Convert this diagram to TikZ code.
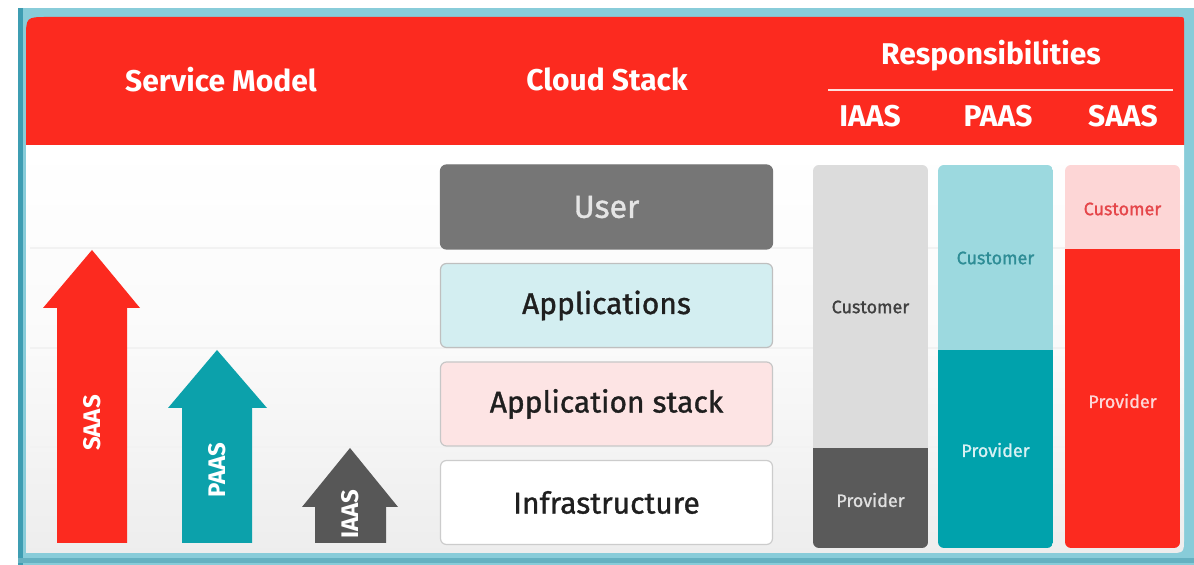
\documentclass[tikz,border=0pt]{standalone}
\usepackage{fontspec}
\setmainfont{Fira Sans}
\newfontfamily\medfont[FakeBold=1.1]{Fira Sans}
\definecolor{hdrred}{HTML}{FC2A1F}
\definecolor{tealc}{HTML}{0CA1AB}
\definecolor{darkg}{HTML}{575757}
\definecolor{frameblue}{HTML}{88CCD9}
\definecolor{frameteal}{HTML}{3E9DB2}
\definecolor{usergray}{HTML}{767676}
\definecolor{appcyan}{HTML}{D3EEF1}
\definecolor{stackpink}{HTML}{FDE4E4}
\definecolor{custgray}{HTML}{DCDCDC}
\definecolor{provgray}{HTML}{5A5A5A}
\definecolor{custteal}{HTML}{9CD9DF}
\definecolor{provteal}{HTML}{00A2AC}
\definecolor{custpink}{HTML}{FDD6D6}
\definecolor{tealtext}{HTML}{2E8D96}
\definecolor{redtext}{HTML}{E5464A}
\begin{document}
\begin{tikzpicture}[x=0.5pt,y=-0.5pt,
  hdr/.style={text=white, font=\bfseries\fontsize{15}{18}\selectfont, inner sep=0pt},
  stackbox/.style={rounded corners=3pt, minimum width=166pt, minimum height=42pt,
    line width=0.6pt, text=black!88, font=\medfont\fontsize{15}{18}\selectfont, inner sep=0pt},
  arrowlabel/.style={text=white, font=\bfseries\fontsize{12}{14}\selectfont, rotate=90, inner sep=0pt},
  resp/.style={font=\medfont\fontsize{9}{11}\selectfont, inner sep=0pt}]
\useasboundingbox (0,0) rectangle (1194,565);
% outer frame
\fill[white] (0,0) rectangle (1194,565);
\fill[frameblue] (18,8) rectangle (1194,565);
\fill[frameteal] (18,8) rectangle (23,565);
\fill[frameteal!80] (18,558) rectangle (1194,563);
% white body with soft vertical shading
\shade[top color=white, bottom color=black!7, middle color=black!2]
  (26,145) -- (1184,145) -- (1184,538) .. controls (1184,553) .. (1169,553) -- (26,553) -- cycle;
% faint guide lines across the body
\foreach \yy in {248,348,447}
  \draw[black!5, line width=0.8pt] (30,\yy) -- (1180,\yy);
% red header band
\fill[hdrred] (26,145) -- (26,39) .. controls (26,17) .. (48,17) -- (1179,17)
  .. controls (1184,17) .. (1184,22) -- (1184,145) -- cycle;
% header texts
\node[hdr] (hsm) at (221,80) {Service Model};
\node[hdr] (hcs) at (607,79) {Cloud Stack};
\node[hdr] (hre) at (991,56) {Responsibilities};
\coordinate (divl) at (828,90);
\coordinate (divr) at (1173,90);
\draw[white!85!hdrred, line width=1pt] (divl) -- (divr);
\node[hdr] (hia) at (870,116) {IAAS};
\node[hdr] (hpa) at (998,116) {PAAS};
\node[hdr] (hsa) at (1123,116) {SAAS};
% service model arrows
\fill[hdrred] (57,543) -- (57,308) -- (43,308) -- (92,250) -- (140,308) -- (127,308) -- (127,543) -- cycle;
\fill[tealc] (182,543) -- (182,408) -- (168,408) -- (217,350) -- (267,408) -- (252,408) -- (252,543) -- cycle;
\fill[darkg] (315,543) -- (315,507) -- (302,507) -- (350,448) -- (398,507) -- (386,507) -- (386,543) -- cycle;
\node[arrowlabel] (lsaas) at (92,423) {SAAS};
\node[arrowlabel] (lpaas) at (217,470) {PAAS};
\node[arrowlabel] (liaas) at (350,514) {IAAS};
% cloud stack layers
\node[stackbox, fill=usergray, draw=usergray, text=black!10, font=\medfont\fontsize{16}{19}\selectfont] (user) at (606.5,207) {User};
\node[stackbox, fill=appcyan, draw=black!25] (apps) at (606.5,305.5) {Applications};
\node[stackbox, fill=stackpink, draw=black!22] (astack) at (606.5,404) {Application stack};
\node[stackbox, fill=white, draw=black!20] (infra) at (606.5,502.5) {Infrastructure};
% responsibility columns
\begin{scope}
  \clip[rounded corners=3pt] (813,165) rectangle (928,548);
  \fill[custgray] (813,165) rectangle (928,448);
  \fill[provgray] (813,448) rectangle (928,548);
\end{scope}
\begin{scope}
  \clip[rounded corners=3pt] (938,165) rectangle (1053,548);
  \fill[custteal] (938,165) rectangle (1053,350);
  \fill[provteal] (938,350) rectangle (1053,548);
\end{scope}
\begin{scope}
  \clip[rounded corners=3pt] (1065,165) rectangle (1180,548);
  \fill[custpink] (1065,165) rectangle (1180,249);
  \fill[hdrred] (1065,249) rectangle (1180,548);
\end{scope}
\node[resp, text=black!75] (icust) at (870.5,307) {Customer};
\node[resp, text=black!12] (iprov) at (870.5,500) {Provider};
\node[resp, text=tealtext] (pcust) at (995.5,258) {Customer};
\node[resp, text=provteal!15] (pprov) at (995.5,450) {Provider};
\node[resp, text=redtext] (scust) at (1122.5,209) {Customer};
\node[resp, text=custpink] (sprov) at (1122.5,401) {Provider};
\end{tikzpicture}
\end{document}
